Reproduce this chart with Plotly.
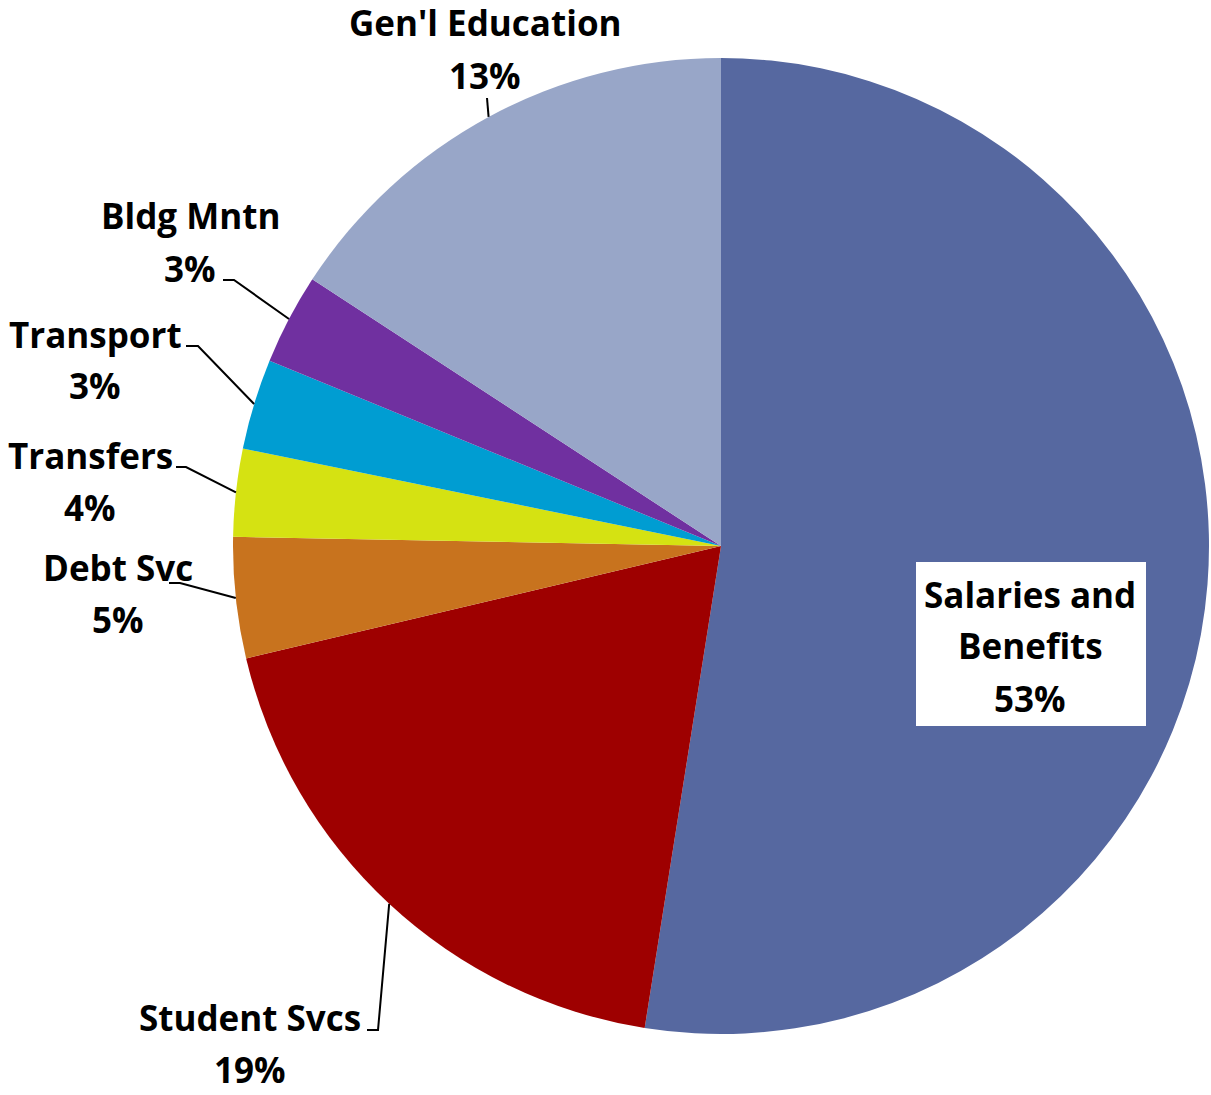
import math
import plotly.graph_objects as go

# ---- data ----
categories = ["Salaries and Benefits", "Student Svcs", "Debt Svc", "Transfers",
              "Transport", "Bldg Mntn", "Gen'l Education"]
values = [52.5, 18.8, 4.0, 2.9, 3.0, 3.0, 15.8]
pct_labels = ["53%", "19%", "5%", "4%", "3%", "3%", "13%"]
name_lines = [["Salaries and", "Benefits"], ["Student Svcs"], ["Debt Svc"], ["Transfers"],
              ["Transport"], ["Bldg Mntn"], ["Gen'l Education"]]
colors = ["#5668A0", "#9E0000", "#C8731E", "#D5E212", "#009DD2", "#7030A0", "#98A6C8"]

# ---- layout geometry (page pixels) ----
W, H = 1211, 1095
CX, CY, R = 721, 546, 488
# label block centres
label_pos = [(1030, 646), (250, 1043), (118, 593), (90, 481), (95, 360), (190, 242), (485, 49)]
line_gap = 52
# leader line start points (None = inside label)
stub_start = [None, (367, 1030), (169, 583), (176, 467), (186, 346), (223, 280), (487, 98)]
stub_len = [0, 11, 11, 10, 12, 11, 0]

def px(x):
    return x / W

def py(y):
    return 1 - y / H

fig = go.Figure(go.Pie(
    labels=categories, values=values, sort=False, direction="clockwise", rotation=0,
    marker=dict(colors=colors, line=dict(width=0)),
    textinfo="none", hoverinfo="label+percent", showlegend=False,
    domain=dict(x=[px(CX - R), px(CX + R)], y=[py(CY + R), py(CY - R)]),
))

font = dict(family="'Open Sans', sans-serif", size=35, color="black", weight="bold")
annotations = []
shapes = []
total = sum(values)
cum = 0.0
for i, v in enumerate(values):
    mid = (cum + v / 2) / total * 2 * math.pi
    cum += v
    lx, ly = label_pos[i]
    lines = name_lines[i] + [pct_labels[i]]
    n = len(lines)
    if i == 0:
        shapes.append(dict(type="rect", xref="paper", yref="paper",
                           x0=px(lx - 114), x1=px(lx + 116), y0=py(ly - 84), y1=py(ly + 80),
                           fillcolor="white", line=dict(width=0), layer="above"))
    for k, t in enumerate(lines):
        yy = ly + (k - (n - 1) / 2) * line_gap
        annotations.append(dict(x=px(lx), y=py(yy), xref="paper", yref="paper", text=t,
                                showarrow=False, font=font, xanchor="center", yanchor="middle"))
    if stub_start[i] is not None:
        ex = CX + R * math.sin(mid)
        ey = CY - R * math.cos(mid)
        sx, sy = stub_start[i]
        bx = sx + stub_len[i]
        path = f"M {px(sx)},{py(sy)} L {px(bx)},{py(sy)} L {px(ex)},{py(ey)}"
        shapes.append(dict(type="path", xref="paper", yref="paper", path=path,
                           line=dict(color="black", width=2)))

fig.update_layout(
    width=W, height=H, margin=dict(l=0, r=0, t=0, b=0),
    paper_bgcolor="white", plot_bgcolor="white",
    annotations=annotations, shapes=shapes,
)
fig.write_html("out.html", config={"displayModeBar": False},
               post_script="document.body.style.margin='0';document.body.style.overflow='hidden';")
